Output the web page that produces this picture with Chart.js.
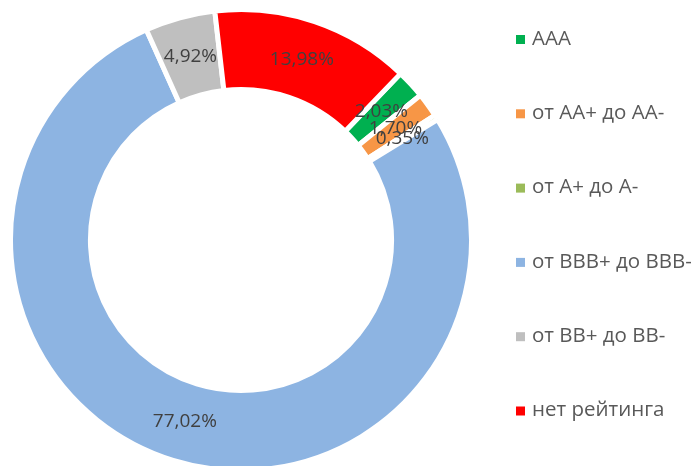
<!DOCTYPE html>
<html>
<head>
<meta charset="utf-8">
<script src="https://cdn.jsdelivr.net/npm/chart.js@4/dist/chart.umd.min.js"></script>
<style>
    html, body { margin: 0; padding: 0; background: #ffffff; }
    #wrap { width: 696px; height: 466px; position: relative; }
</style>
</head>
<body>
<div id="wrap"><canvas id="ratingChart"></canvas></div>
<script>
// Chart data
const categories = ['AAA', 'от AA+ до AA-', 'от A+ до A-', 'от BBB+ до BBB-', 'от BB+ до BB-', 'нет рейтинга'];
const shareValues = [2.03, 1.70, 0.35, 77.02, 4.92, 13.98];
const sliceColors = ['#00B050', '#F79646', '#9BBB59', '#8DB4E2', '#BFBFBF', '#FF0000'];

const FONT = "'Open Sans', 'Noto Sans', sans-serif";

// Percent labels in the middle of each ring segment
const sliceLabels = {
    id: 'sliceLabels',
    afterDatasetsDraw(chart) {
        const ctx = chart.ctx;
        const meta = chart.getDatasetMeta(0);
        ctx.save();
        ctx.font = '19px ' + FONT;
        ctx.fillStyle = '#404040';
        ctx.textAlign = 'center';
        ctx.textBaseline = 'middle';
        meta.data.forEach((arc, i) => {
            const p = arc.tooltipPosition();
            const text = shareValues[i].toFixed(2).replace('.', ',') + '%';
            ctx.fillText(text, p.x, p.y);
        });
        ctx.restore();
    }
};

// Legend on the right, widely spaced like the original
const sideLegend = {
    id: 'sideLegend',
    afterDraw(chart) {
        const ctx = chart.ctx;
        const x = 516;
        const top = 39;
        const step = 74.3;
        ctx.save();
        ctx.font = '20.5px ' + FONT;
        ctx.textAlign = 'left';
        ctx.textBaseline = 'middle';
        categories.forEach((name, i) => {
            const y = top + i * step;
            ctx.fillStyle = sliceColors[i];
            ctx.fillRect(x, y - 4, 9, 9);
            ctx.fillStyle = '#595959';
            ctx.fillText(name, x + 16, y);
        });
        ctx.restore();
    }
};

const ctx = document.getElementById('ratingChart').getContext('2d');
const ratingChart = new Chart(ctx, {
    type: 'doughnut',
    data: {
        labels: categories,
        datasets: [{
            data: shareValues,
            backgroundColor: sliceColors,
            borderColor: '#ffffff',
            borderWidth: 5
        }]
    },
    options: {
        responsive: true,
        maintainAspectRatio: false,
        animation: false,
        rotation: 43.8,
        radius: 230.5,
        cutout: 146,
        layout: {
            padding: { left: 0, right: 214, top: 14, bottom: 0 }
        },
        plugins: {
            legend: { display: false },
            tooltip: { enabled: false }
        }
    },
    plugins: [sliceLabels, sideLegend]
});
</script>
</body>
</html>
